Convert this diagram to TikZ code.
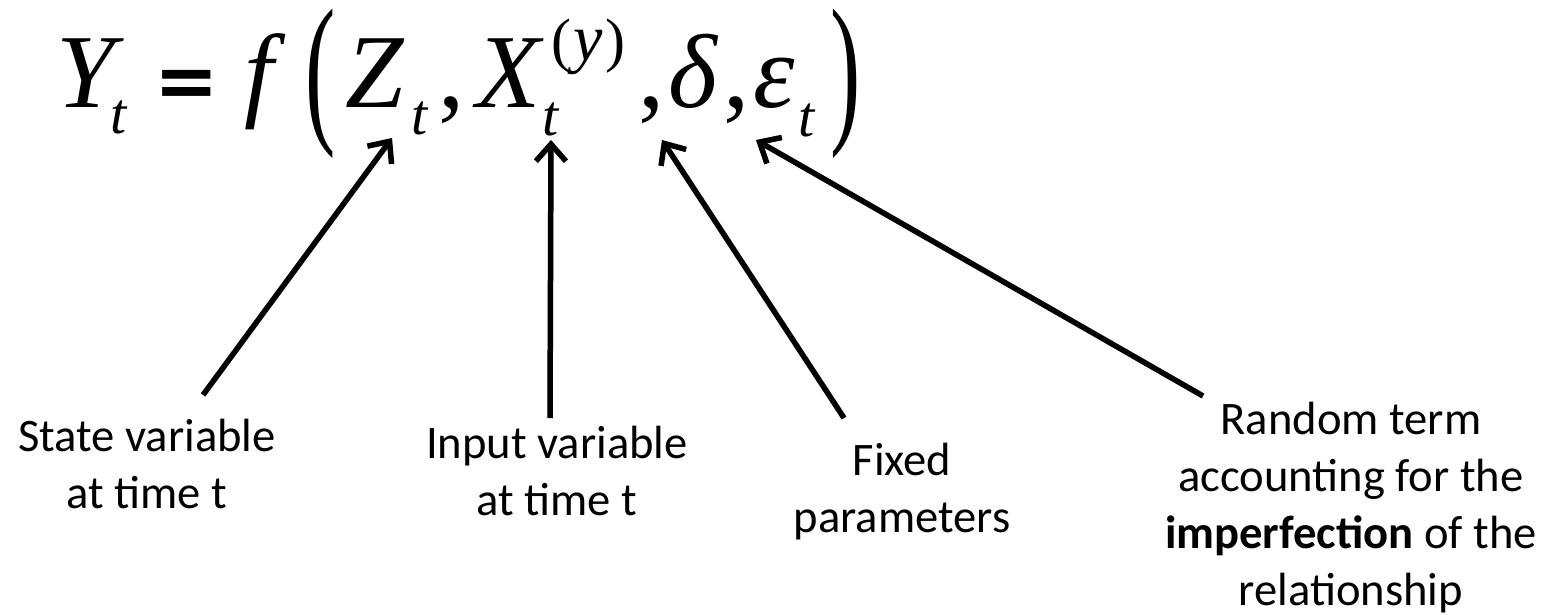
\documentclass[tikz,border=0pt]{standalone}
\usepackage{fontspec}
\usepackage{graphicx}
\setmainfont{Carlito}
\newfontfamily\tnr{Liberation Serif}
\newfontfamily\djv{DejaVu Sans}
\usetikzlibrary{arrows.meta}
\tikzset{
  eqi/.style={inner sep=0pt, anchor=base west, font=\tnr\itshape\fontsize{105}{110}\selectfont},
  equ/.style={inner sep=0pt, anchor=base west, font=\tnr\fontsize{105}{110}\selectfont},
  eqsub/.style={inner sep=0pt, anchor=base west, font=\tnr\itshape\fontsize{58}{60}\selectfont},
  eqsup/.style={inner sep=0pt, anchor=base west, font=\tnr\fontsize{60}{64}\selectfont},
  eqsign/.style={inner sep=0pt, anchor=base west, font=\djv\bfseries\fontsize{77}{80}\selectfont},
  bigparen/.style={inner sep=0pt, anchor=base west, font=\tnr\fontsize{165}{170}\selectfont},
  lbl/.style={inner sep=0pt, anchor=base, align=center, font=\fontsize{46.6}{57}\selectfont},
  conn/.style={line width=5.5pt, -{Straight Barb[length=17pt,width=30pt]}},
  shadowconn/.style={conn, draw=black!16, shift={(2,3)}}
}
\begin{document}
\begin{tikzpicture}[x=1pt,y=-1pt]
\useasboundingbox (0,0) rectangle (1553,615);
% equation
\node[eqi] (Y) at (56,108) {Y};
\node[eqsub] (Yt) at (110,134) {t};
\node[eqsign] (eq) at (154,108) {=};
\node[eqi] (f) at (244,108) {f};
\node[bigparen] (lp) at (305,124) {\scalebox{0.55}[1]{(}};
\node[eqi] (Z) at (345,108) {Z};
\node[eqsub] (Zt) at (411,135) {t};
\node[equ] (c1) at (438,108) {,};
\node[eqi] (X) at (476,108) {X};
\node[eqsup] (Xy) at (551,61) {(\kern2pt{\fontsize{66}{66}\selectfont\textit{y}}\kern3pt)};
\node[eqsub] (Xt) at (542,136) {t};
\node[equ] (c2) at (638,108) {,};
\node[eqi] (d) at (668,108) {δ};
\node[equ] (c3) at (723,108) {,};
\node[eqi] (e) at (753,108) {ε};
\node[eqsub] (et) at (798,137) {t};
\node[bigparen] (rp) at (830,124) {\scalebox{0.55}[1]{)}};
% labels (anchor = baseline of last line)
\node[lbl] (state) at (147,508) {State variable\\at time t};
\node[lbl] (input) at (557,515) {Input variable\\at time t};
\node[lbl] (fixed) at (902,532) {Fixed\\parameters};
\node[lbl] (random) at (1351,605) {Random term\\accounting for the\\\textbf{imperfection} of the\\relationship};
% arrow ends
\coordinate (sT) at (203,395); \coordinate (sH) at (392,138);
\coordinate (iT) at (550,418); \coordinate (iH) at (551,140);
\coordinate (fT) at (844,418); \coordinate (fH) at (662,140);
\coordinate (rT) at (1203,396); \coordinate (rH) at (756,140);
% shadows
\draw[shadowconn] (sT) -- (sH);
\draw[shadowconn] (iT) -- (iH);
\draw[shadowconn] (fT) -- (fH);
\draw[shadowconn] (rT) -- (rH);
% arrows
\draw[conn] (sT) -- (sH);
\draw[conn] (iT) -- (iH);
\draw[conn] (fT) -- (fH);
\draw[conn] (rT) -- (rH);
\end{tikzpicture}
\end{document}
